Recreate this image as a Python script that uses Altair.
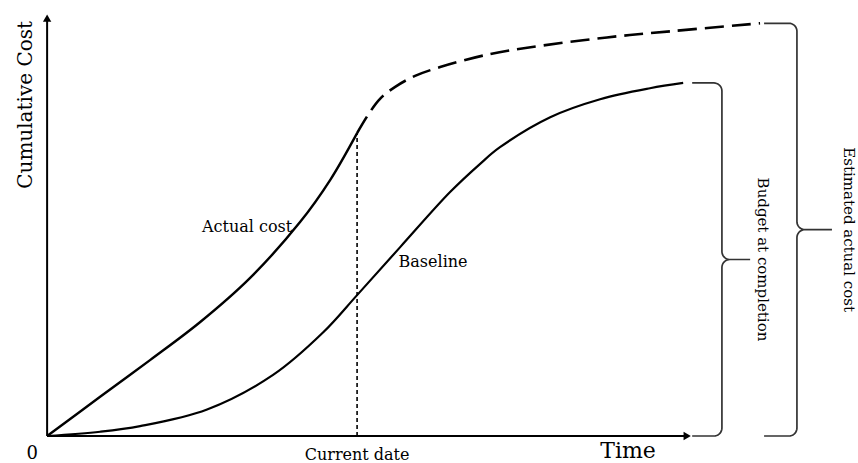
import altair as alt
import numpy as np
import pandas as pd

# ---------------- data ----------------
# time units: 0 = project start, 10 = current date
baseline_time = [0, 1.71, 3.0, 5.16, 7.29, 8.9, 10.0, 11.39, 13.0, 13.97, 14.61, 16.23, 17.84, 19.45, 20.52]
baseline_cost = [0, 1.2, 2.8, 7.5, 17.3, 29.3, 39.9, 53.5, 69.1, 77.1, 81.8, 90.3, 95.4, 98.5, 100.0]

actual_time = [0, 1.71, 3.32, 4.94, 6.55, 8.16, 9.13, 10.0]
actual_cost = [0, 11.1, 21.5, 32.3, 44.8, 60.6, 72.5, 85.8]

forecast_time = [10.0, 10.35, 10.74, 11.23, 11.87, 12.68, 14.29, 15.9, 18.06, 20.19, 23.0]
forecast_cost = [85.8, 90.9, 95.5, 98.9, 102.0, 104.5, 108.2, 110.5, 112.9, 114.7, 116.9]

current_date = 10.0
bac = baseline_cost[-1]        # budget at completion
eac = forecast_cost[-1]        # estimated actual cost

# ---------------- layout constants ----------------
W, H = 858, 463
X_DOMAIN = [-1.52, 26.16]
Y_DOMAIN = [-7.65, 123.5]
PX_T = W / (X_DOMAIN[1] - X_DOMAIN[0])
PX_C = H / (Y_DOMAIN[1] - Y_DOMAIN[0])
FONT = "DejaVu Serif"

xs = alt.Scale(domain=X_DOMAIN, nice=False, zero=False)
ys = alt.Scale(domain=Y_DOMAIN, nice=False, zero=False)


def X(f="x", **kw):
    return alt.X(f + ":Q", scale=xs, axis=None, **kw)


def Y(f="y", **kw):
    return alt.Y(f + ":Q", scale=ys, axis=None, **kw)


# ---------------- curves ----------------
base_df = pd.DataFrame({"x": baseline_time, "y": baseline_cost})
act_df = pd.DataFrame({"x": actual_time, "y": actual_cost})
fc_df = pd.DataFrame({"x": forecast_time, "y": forecast_cost})

baseline = alt.Chart(base_df).mark_line(color="black", strokeWidth=2.2, interpolate="catmull-rom").encode(x=X(), y=Y())
actual = alt.Chart(act_df).mark_line(color="black", strokeWidth=2.4, interpolate="catmull-rom").encode(x=X(), y=Y())
forecast = alt.Chart(fc_df).mark_line(color="black", strokeWidth=2.6, strokeDash=[19, 8],
                                      interpolate="catmull-rom").encode(x=X(), y=Y())

# ---------------- axes with arrows ----------------
y_axis_top = 118.4
x_axis_end = 20.55
axes_df = pd.DataFrame({"x": [0, 0], "x2": [0, x_axis_end], "y": [0, 0], "y2": [y_axis_top, 0]})
axes = alt.Chart(axes_df).mark_rule(color="black", strokeWidth=2).encode(
    x=X(), x2="x2:Q", y=Y(), y2="y2:Q")

arrow_up = alt.Chart(pd.DataFrame({"x": [0], "y": [y_axis_top]})).mark_point(
    shape="triangle-up", filled=True, color="black", size=70, opacity=1).encode(x=X(), y=Y())
arrow_right = alt.Chart(pd.DataFrame({"x": [x_axis_end + 0.1], "y": [0]})).mark_point(
    shape="triangle-right", filled=True, color="black", size=70, opacity=1).encode(x=X(), y=Y())

# current date dotted rule
cd = alt.Chart(pd.DataFrame({"x": [current_date], "y": [0], "y2": [actual_cost[-1]]})).mark_rule(
    color="black", strokeWidth=1.6, strokeDash=[4, 3]).encode(x=X(), y=Y(), y2="y2:Q")


# ---------------- braces ----------------
def brace(x0, xv, xt, top, bot, r_px=8, n=10):
    rt, rc = r_px / PX_T, r_px / PX_C
    mid = (top + bot) / 2
    pts = [(x0, top)]

    def arc(cx, cy, a0, a1):
        for a in np.linspace(np.radians(a0), np.radians(a1), n):
            pts.append((cx + rt * np.cos(a), cy + rc * np.sin(a)))

    arc(xv - rt, top - rc, 90, 0)
    arc(xv + rt, mid + rc, 180, 270)
    pts.append((xt, mid))
    arc(xv + rt, mid - rc, 90, 180)
    arc(xv - rt, bot + rc, 0, -90)
    pts.append((x0, bot))
    return pd.DataFrame({"x": [p[0] for p in pts], "y": [p[1] for p in pts], "i": range(len(pts))})


b1 = brace(20.81, 21.77, 22.68, bac, 0)
b2 = brace(23.13, 24.19, 25.32, eac, 0)
brace1 = alt.Chart(b1).mark_line(color="#333", strokeWidth=1.7).encode(x=X(), y=Y(), order="i:Q")
brace2 = alt.Chart(b2).mark_line(color="#333", strokeWidth=1.7).encode(x=X(), y=Y(), order="i:Q")

# ---------------- texts ----------------
labels_h = pd.DataFrame({
    "x": [6.45, 12.45],
    "y": [57.8, 47.9],
    "t": ["Actual cost", "Baseline"],
    "s": [16, 16],
})
texts = alt.Chart(labels_h).mark_text(font=FONT, color="black", align="center", baseline="alphabetic").encode(
    x=X(), y=Y(), text="t:N", size=alt.Size("s:Q", scale=None, legend=None))

bottom_labels = pd.DataFrame({
    "x": [current_date, 18.74, -0.48],
    "y": [Y_DOMAIN[0], Y_DOMAIN[0], Y_DOMAIN[0]],
    "t": ["Current date", "Time", "0"],
    "s": [16, 22, 18],
})
btexts = alt.Chart(bottom_labels).mark_text(font=FONT, color="black", align="center", baseline="bottom").encode(
    x=X(), y=Y(), text="t:N", size=alt.Size("s:Q", scale=None, legend=None))

ylab = alt.Chart(pd.DataFrame({"x": [-0.68], "y": [93.8], "t": ["Cumulative Cost"]})).mark_text(
    font=FONT, fontSize=20, angle=270, align="center", baseline="middle", color="black").encode(
    x=X(), y=Y(), text="t:N")

rot = pd.DataFrame({"x": [23.1, 25.87], "y": [bac / 2, eac / 2],
                    "t": ["Budget at completion", "Estimated actual cost"]})
rot_text = alt.Chart(rot).mark_text(font=FONT, fontSize=15, angle=90, align="center", baseline="middle",
                                    color="black").encode(x=X(), y=Y(), text="t:N")

chart = alt.layer(
    axes, arrow_up, arrow_right, cd, baseline, actual, forecast, brace1, brace2, texts, btexts, ylab, rot_text
).properties(width=W, height=H, autosize=alt.AutoSizeParams(type="none"), padding=0,
             background="white").configure_view(stroke=None)

chart.save("out.html", embed_options={"renderer": "svg", "actions": False})
